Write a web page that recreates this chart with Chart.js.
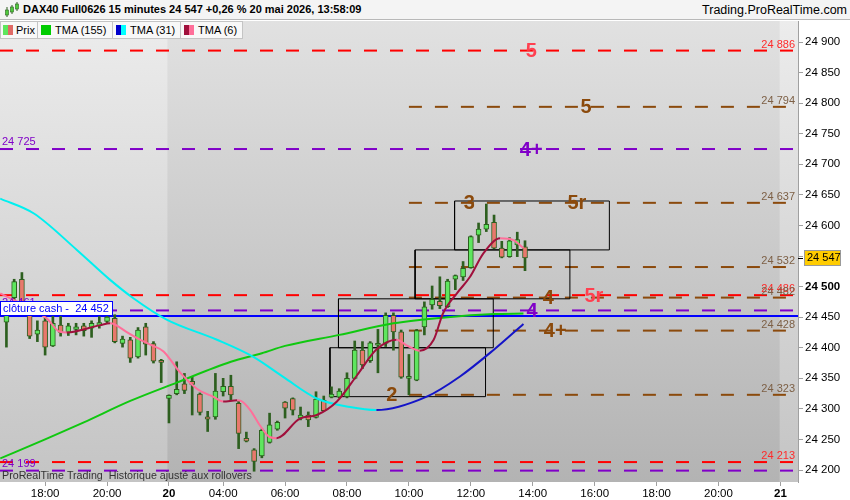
<!DOCTYPE html>
<html>
<head>
<meta charset="utf-8">
<script src="https://cdn.jsdelivr.net/npm/chart.js@4.4.1/dist/chart.umd.min.js"></script>
<style>
  html, body { margin: 0; padding: 0; background: #fff; }
  #wrap { position: relative; width: 850px; height: 500px; overflow: hidden;
          font-family: "Liberation Sans", Arial, sans-serif; }
  #chart { position: absolute; left: 0; top: 0; }
  .hdr { position: absolute; left: 0; top: 0; width: 850px; height: 20px; background: #f4f4f4;
         border-bottom: 1px solid #b8b8b8; box-sizing: border-box; }
  .hdr .title { position: absolute; left: 23px; top: 3px; font-size: 11px; font-weight: bold; color: #000; white-space: nowrap; }
  .hdr .site { position: absolute; right: 3px; top: 3px; font-size: 12.5px; color: #000; white-space: nowrap; }
  .hdr svg { position: absolute; left: 4px; top: 2px; }
  .leg { position: absolute; top: 21px; height: 18px; box-sizing: border-box; background: #f8f8f8;
         border: 1px solid #c4c4c4; font-size: 11px; line-height: 16px; color: #000; white-space: nowrap; }
  .leg i { position: absolute; top: 3px; width: 5px; height: 10px; }
  .leg span { position: absolute; top: 0; }
</style>
</head>
<body>
<div id="wrap">
  <canvas id="chart" width="850" height="500"></canvas>
  <div class="hdr">
    <svg width="16" height="16" viewBox="0 0 16 16">
      <line x1="3" y1="5" x2="3" y2="15" stroke="#2d5f1f" stroke-width="1"/>
      <rect x="1.5" y="8" width="3" height="5" fill="#4ecb3c" stroke="#2d5f1f" stroke-width="0.6"/>
      <line x1="8" y1="3" x2="8" y2="12" stroke="#2d5f1f" stroke-width="1"/>
      <rect x="6.5" y="5" width="3" height="5" fill="#4ecb3c" stroke="#2d5f1f" stroke-width="0.6"/>
      <line x1="13" y1="0" x2="13" y2="9" stroke="#2d5f1f" stroke-width="1"/>
      <rect x="11.5" y="2" width="3" height="5" fill="#4ecb3c" stroke="#2d5f1f" stroke-width="0.6"/>
    </svg>
    <div class="title">DAX40 Full0626 15 minutes 24 547 +0,26 % 20 mai 2026, 13:58:09</div>
    <div class="site">Trading.ProRealTime.com</div>
  </div>
  <div class="leg" style="left:0;width:38px"><i style="left:2px;background:#5ee65e"></i><i style="left:7px;background:#e06a66"></i><span style="left:15px">Prix</span></div>
  <div class="leg" style="left:37px;width:76px"><i style="left:3px;width:10px;background:#00cc00"></i><span style="left:17px">TMA (155)</span></div>
  <div class="leg" style="left:112px;width:69px"><i style="left:3px;background:#0000cc"></i><i style="left:8px;background:#00ffff"></i><span style="left:17px">TMA (31)</span></div>
  <div class="leg" style="left:180px;width:63px"><i style="left:3px;background:#a0103c"></i><i style="left:8px;background:#ff6f9a"></i><span style="left:17px">TMA (6)</span></div>
</div>
<script>
// 15-minute bars, index 0 = 18:00 on the 19th
const FIRST_BAR = -5;
const opens  = [24442, 24482, 24512, 24455, 24422, 24444, 24403, 24437, 24425, 24430, 24436, 24432, 24436, 24443, 24448, 24407, 24413, 24385, 24434,
                24407, 24379, 24317, 24325, 24341, 24345, 24324, 24287, 24287, 24328, 24337, 24309, 24252, 24233, 24223, 24245, 24267,
                24311, 24317, 24285, 24290, 24286, 24314, 24319, 24319, 24320, 24350, 24396, 24379, 24404, 24407, 24453, 24426, 24350,
                24347, 24434, 24470, 24476, 24467, 24512, 24516, 24531, 24584, 24594, 24605, 24563, 24549, 24568, 24565];
const highs  = [24475, 24512, 24523, 24460, 24444, 24452, 24452, 24452, 24440, 24440, 24440, 24444, 24451, 24455, 24454, 24419, 24417, 24433, 24440,
                24410, 24381, 24323, 24377, 24358, 24353, 24326, 24296, 24358, 24350, 24355, 24314, 24262, 24235, 24267, 24293, 24280,
                24312, 24318, 24303, 24295, 24328, 24321, 24336, 24333, 24359, 24411, 24410, 24410, 24430, 24457, 24457, 24429, 24389,
                24430, 24475, 24501, 24516, 24512, 24519, 24541, 24583, 24604, 24635, 24617, 24574, 24580, 24589, 24575];
const lows   = [24401, 24478, 24470, 24415, 24410, 24388, 24402, 24419, 24420, 24421, 24419, 24417, 24432, 24440, 24408, 24401, 24376, 24383, 24388,
                24375, 24343, 24277, 24323, 24325, 24290, 24290, 24263, 24283, 24321, 24314, 24235, 24246, 24198, 24220, 24244, 24265,
                24285, 24290, 24282, 24271, 24285, 24296, 24318, 24318, 24318, 24349, 24366, 24376, 24359, 24402, 24396, 24350, 24323,
                24346, 24421, 24463, 24464, 24466, 24495, 24510, 24530, 24572, 24590, 24562, 24547, 24548, 24549, 24526];
const closes = [24458, 24508, 24475, 24419, 24429, 24401, 24440, 24425, 24436, 24434, 24428, 24440, 24441, 24450, 24410, 24414, 24383, 24429, 24406,
                24378, 24376, 24322, 24332, 24330, 24340, 24294, 24283, 24329, 24337, 24323, 24260, 24247, 24214, 24265, 24274, 24278,
                24301, 24298, 24290, 24282, 24316, 24297, 24324, 24329, 24350, 24396, 24372, 24408, 24407, 24453, 24426, 24352, 24352,
                24428, 24467, 24479, 24469, 24509, 24518, 24530, 24582, 24594, 24602, 24563, 24548, 24575, 24577, 24547];

// moving averages (bar index, price)
const tma6Bars  = [-5.8, 0.2, 1.9, 2.8, 7.1, 8.4, 9.0, 10.5, 12.3, 13.8, 15.3, 17.4, 19.6, 21.7, 23.0, 24.8, 25.3, 26.5, 27.8,
                   29.0, 29.9, 32.9, 35.1, 37.7, 40.3, 42.8, 45.4, 46.7, 48.4, 50.2, 51.4, 53.2, 54.9, 56.6, 58.8, 60.5, 61.8];
const tma6Vals  = [24489, 24448, 24426, 24425, 24437, 24440, 24438, 24426, 24413, 24404, 24394, 24360, 24333, 24320, 24312, 24314, 24313, 24298, 24272,
                   24254, 24252, 24284, 24290, 24312, 24355, 24397, 24413, 24404, 24395, 24413, 24456, 24489, 24516, 24554, 24579, 24576, 24563];
const tma31Bars = [-5.8, -1.5, 4.1, 8.4, 11.4, 15.7, 22.2, 26.9, 30.8, 35.1, 39.4, 42.8, 49.3, 53.6, 57.9, 61.8];
const tma31Vals = [24644, 24620, 24560, 24511, 24481, 24446, 24413, 24385, 24352, 24317, 24303, 24298, 24320, 24353, 24396, 24439];
const tma155Bars = [-5.8, 0, 5, 11, 17, 24, 28, 31, 38, 45, 52, 58, 61.8];
const tma155Vals = [24219, 24250, 24278, 24313, 24343, 24377, 24391, 24403, 24421, 24440, 24450, 24455, 24456];

// horizontal levels
const levelValues = [24886, 24794, 24725, 24637, 24532, 24486, 24482, 24461, 24428, 24323, 24213, 24199];
const levelKinds  = ['r', 'b', 'p', 'b', 'b', 'r', 'b', 'p', 'b', 'b', 'r', 'p'];
const levelFrom   = [null, 47, null, 47, 47, null, 47, null, 47, 47, null, null];
const cashClose = 24452;

// wave labels
const waveNames  = ['5', '5', '4+', '3', '5r', '4', '5r', '4', '4+', '2'];
const waveKinds  = ['r', 'b', 'p', 'b', 'b', 'b', 'r', 'p', 'b', 'b'];
const waveBars   = [62.8, 69.9, 62.8, 54.8, 68.7, 65.0, 70.9, 62.9, 65.9, 44.8];
const waveLevels = [24886, 24794, 24725, 24637, 24637, 24482, 24486, 24461, 24428, 24323];

// boxes
const boxFrom = [52.9, 47.8, 37.9, 36.8];
const boxTo   = [72.9, 67.8, 57.9, 56.9];
const boxLow  = [24560, 24480, 24400, 24320];
const boxHigh = [24640, 24560, 24480, 24400];

// axes
const tickBars   = [0, 8, 16, 23, 31, 39, 47, 55, 63, 71, 79, 87, 95];
const tickLabels = ['18:00', '20:00', '20', '04:00', '06:00', '08:00', '10:00', '12:00', '14:00', '16:00', '18:00', '20:00', '21'];
const priceTicks = [24200, 24250, 24300, 24350, 24400, 24450, 24500, 24550, 24600, 24650, 24700, 24750, 24800, 24850, 24900];
const dayBreaks  = [15.8, 94.9];
const X_RANGE = [-5.83, 97.27];
const Y_RANGE = [24180.4, 24934.4];

const FONT = '"Liberation Sans", Arial, sans-serif';
const LINE_COLORS  = { r: '#ff0000', b: '#8b4a0c', p: '#8000c8' };
const LABEL_COLORS = { r: '#ff2a2a', b: '#7d6046', p: '#8000c8' };
const WAVE_COLORS  = { r: '#ff4050', b: '#8b4a0c', p: '#8000c8' };
const UP = '#5ee65e', DOWN = '#e8786c', EDGE = '#2d5f1f';

const fmt = v => Math.round(v).toString().replace(/\B(?=(\d{3})+(?!\d))/g, ' ');
const barIdx = opens.map((_, k) => FIRST_BAR + k);
const pts = (xs, ys) => xs.map((x, k) => ({ x, y: ys[k] }));

function maLine(xs, ys, upColor, downColor, order) {
  return {
    type: 'line', data: pts(xs, ys), order,
    borderWidth: 2, pointRadius: 0, cubicInterpolationMode: 'monotone',
    borderColor: upColor,
    segment: { borderColor: c => (c.p1.parsed.y >= c.p0.parsed.y ? upColor : downColor) }
  };
}

const datasets = [
  maLine(tma6Bars, tma6Vals, '#a0103c', '#ff6f9a', 0),
  maLine(tma31Bars, tma31Vals, '#1414c8', '#00f0f0', 1),
  { type: 'line', data: pts(tma155Bars, tma155Vals), order: 2, borderColor: '#10c810',
    borderWidth: 2, pointRadius: 0, cubicInterpolationMode: 'monotone' },
  { type: 'bar', order: 3, grouped: false, barThickness: 5, minBarLength: 2,
    data: opens.map((o, k) => ({ x: barIdx[k], y: [o, closes[k]] })),
    backgroundColor: opens.map((o, k) => (closes[k] >= o ? UP : DOWN)),
    borderColor: EDGE, borderWidth: 1, borderSkipped: false },
  { type: 'bar', order: 4, grouped: false, barThickness: 2,
    data: lows.map((l, k) => ({ x: barIdx[k], y: [l, highs[k]] })),
    backgroundColor: EDGE, borderWidth: 0 }
];

boxFrom.forEach((x0, k) => {
  const x1 = boxTo[k], lo = boxLow[k], hi = boxHigh[k];
  datasets.push({ type: 'line', order: 5, borderColor: '#000', borderWidth: 1, pointRadius: 0,
    data: [{ x: x0, y: lo }, { x: x1, y: lo }, { x: x1, y: hi }, { x: x0, y: hi }, { x: x0, y: lo }] });
});

datasets.push({ type: 'line', order: 6, borderColor: '#0000ff', borderWidth: 2, pointRadius: 0,
  data: [{ x: X_RANGE[0], y: cashClose }, { x: X_RANGE[1], y: cashClose }] });

levelValues.forEach((v, k) => {
  datasets.push({ type: 'line', order: 7, borderColor: LINE_COLORS[levelKinds[k]], borderWidth: 2,
    borderDash: [13, 13], pointRadius: 0,
    data: [{ x: levelFrom[k] ?? X_RANGE[0], y: v }, { x: X_RANGE[1], y: v }] });
});

const backdrop = {
  id: 'backdrop',
  beforeDraw(chart) {
    const { ctx, chartArea: a, scales: { x } } = chart;
    ctx.save();
    const light = ctx.createLinearGradient(0, a.top, 0, a.bottom);
    light.addColorStop(0, '#ececec');
    light.addColorStop(1, '#c4c4c4');
    ctx.fillStyle = light;
    ctx.fillRect(a.left, a.top, a.width, a.height);
    const dark = ctx.createLinearGradient(0, a.top, 0, a.bottom);
    dark.addColorStop(0, '#e1e1e1');
    dark.addColorStop(1, '#b3b3b3');
    const x0 = x.getPixelForValue(dayBreaks[0]), x1 = x.getPixelForValue(dayBreaks[1]);
    ctx.fillStyle = dark;
    ctx.fillRect(x0, a.top, x1 - x0, a.height);
    ctx.restore();
  }
};

const annotations = {
  id: 'annotations',
  afterDatasetsDraw(chart) {
    const { ctx, chartArea: a, scales: { x, y } } = chart;
    ctx.save();

    // level values
    ctx.font = '11px ' + FONT;
    levelValues.forEach((v, k) => {
      const py = y.getPixelForValue(v), kind = levelKinds[k];
      ctx.fillStyle = LABEL_COLORS[kind];
      if (kind === 'p') {
        ctx.textAlign = 'left';
        ctx.fillText(fmt(v), a.left + 2, py - 4);
      } else {
        ctx.textAlign = 'right';
        ctx.fillText(fmt(v), a.right - 3, py - 3);
      }
    });

    // wave counts
    ctx.font = 'bold 20px ' + FONT;
    ctx.textAlign = 'center';
    ctx.textBaseline = 'middle';
    waveNames.forEach((t, k) => {
      ctx.fillStyle = WAVE_COLORS[waveKinds[k]];
      ctx.fillText(t, x.getPixelForValue(waveBars[k]), y.getPixelForValue(waveLevels[k]) + 1);
    });

    // cash close tag
    const cy = Math.round(y.getPixelForValue(cashClose));
    const txt = 'clôture cash -  ' + fmt(cashClose);
    ctx.font = '11px ' + FONT;
    ctx.textAlign = 'left';
    ctx.textBaseline = 'alphabetic';
    const w = Math.ceil(ctx.measureText(txt).width) + 6;
    ctx.fillStyle = '#fff';
    ctx.fillRect(a.left, cy - 15, w, 14);
    ctx.strokeStyle = '#0000ff';
    ctx.lineWidth = 1;
    ctx.strokeRect(a.left + 0.5, cy - 14.5, w, 14);
    ctx.fillStyle = '#0000ff';
    ctx.fillText(txt, a.left + 3, cy - 4);

    // footer note
    ctx.fillStyle = '#333';
    ctx.font = '10.7px ' + FONT;
    ctx.fillText('ProRealTime Trading  Historique ajusté aux rollovers', a.left + 2, a.bottom - 3);

    // last price tag
    const last = closes[closes.length - 1];
    const py = Math.round(y.getPixelForValue(last));
    ctx.strokeStyle = '#000';
    ctx.beginPath();
    ctx.moveTo(a.right, py + 0.5);
    ctx.lineTo(a.right + 5, py + 0.5);
    ctx.stroke();
    ctx.fillStyle = '#ffcc00';
    ctx.fillRect(a.right + 6, py - 8, 36, 15);
    ctx.strokeStyle = '#9a9a9a';
    ctx.strokeRect(a.right + 6.5, py - 7.5, 36, 15);
    ctx.fillStyle = '#000';
    ctx.font = '11px ' + FONT;
    ctx.textBaseline = 'middle';
    ctx.fillText(fmt(last), a.right + 9, py);
    ctx.restore();
  }
};

new Chart(document.getElementById('chart'), {
  type: 'line',
  data: { datasets },
  plugins: [backdrop, annotations],
  options: {
    responsive: false,
    animation: false,
    events: [],
    layout: { padding: { top: 21, left: 0, right: 0, bottom: 0 } },
    plugins: { legend: { display: false }, tooltip: { enabled: false } },
    scales: {
      x: {
        type: 'linear', min: X_RANGE[0], max: X_RANGE[1], offset: false,
        afterBuildTicks: s => { s.ticks = tickBars.map(v => ({ value: v })); },
        afterFit: s => { s.height = 18; },
        grid: { drawOnChartArea: false, tickLength: 4, color: '#a0a0a0', offset: false },
        border: { display: false },
        ticks: {
          autoSkip: false, maxRotation: 0, padding: 1, color: '#000',
          font: c => ({ family: FONT, size: 11.5, weight: tickLabels[c.index] && tickLabels[c.index].length === 2 ? 'bold' : 'normal' }),
          callback: (v, i) => tickLabels[i]
        }
      },
      y: {
        type: 'linear', position: 'right', min: Y_RANGE[0], max: Y_RANGE[1],
        afterBuildTicks: s => { s.ticks = priceTicks.map(v => ({ value: v })); },
        afterFit: s => { s.width = 52; },
        grid: { drawOnChartArea: false, tickLength: 5, color: '#a0a0a0' },
        border: { display: true, color: '#a0a0a0' },
        ticks: {
          padding: 2, color: '#000',
          font: c => ({ family: FONT, size: 11.5, weight: c.tick && c.tick.value === 24500 ? 'bold' : 'normal' }),
          callback: v => fmt(v)
        }
      }
    }
  }
});
</script>
</body>
</html>
